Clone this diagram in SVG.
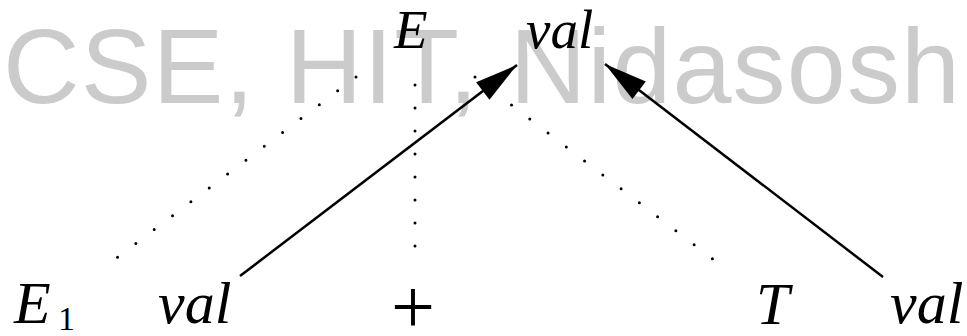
<svg xmlns="http://www.w3.org/2000/svg" width="967" height="336" viewBox="0 0 967 336">
<style>
.wm{font-family:"Liberation Sans",Arial,sans-serif;font-size:106px;letter-spacing:1.2px;fill:#cbcbcb}
.m{font-family:"Liberation Serif","Times New Roman",serif;font-style:italic;font-size:55px;fill:#000}
.b{font-size:60px}
.r{font-family:"Liberation Serif","Times New Roman",serif;fill:#000}
.dot{stroke:#000;stroke-width:3;stroke-linecap:round;stroke-dasharray:0 23;fill:none}
.arr{stroke:#000;stroke-width:2.5;fill:none;marker-end:url(#ah)}
</style>
<defs>
<marker id="ah" markerUnits="userSpaceOnUse" markerWidth="46" markerHeight="26" viewBox="-44 -13 46 26" refX="0" refY="0" orient="auto">
<path d="M0,0 L-43,-11 L-43,11 Z" fill="#000"/>
</marker>
</defs>
<rect width="967" height="336" fill="#fff"/>
<text class="wm" x="3" y="103">CSE, HIT, Nidasosh</text>
<g id="connectors">
<line class="dot" x1="356" y1="77" x2="114" y2="260"/>
<line class="dot" x1="415" y1="85" x2="415" y2="248"/>
<line class="dot" x1="475" y1="77" x2="714" y2="260"/>
<line class="arr" x1="240" y1="276" x2="517" y2="65"/>
<line class="arr" x1="883" y1="277" x2="605" y2="64"/>
</g>
<g id="node-E"><text class="m" x="394" y="48">E</text></g>
<g id="node-E-val"><text class="m" x="526" y="48">val</text></g>
<g id="node-E1"><text class="m b" x="14" y="323">E</text><text class="r" x="58" y="330" font-size="34">1</text></g>
<g id="node-E1-val"><text class="m b" x="158" y="323">val</text></g>
<g id="node-plus"><text class="r" x="413" y="333" font-size="78" text-anchor="middle">+</text></g>
<g id="node-T"><text class="m b" x="756" y="324">T</text></g>
<g id="node-T-val"><text class="m b" x="890" y="323">val</text></g>
</svg>
